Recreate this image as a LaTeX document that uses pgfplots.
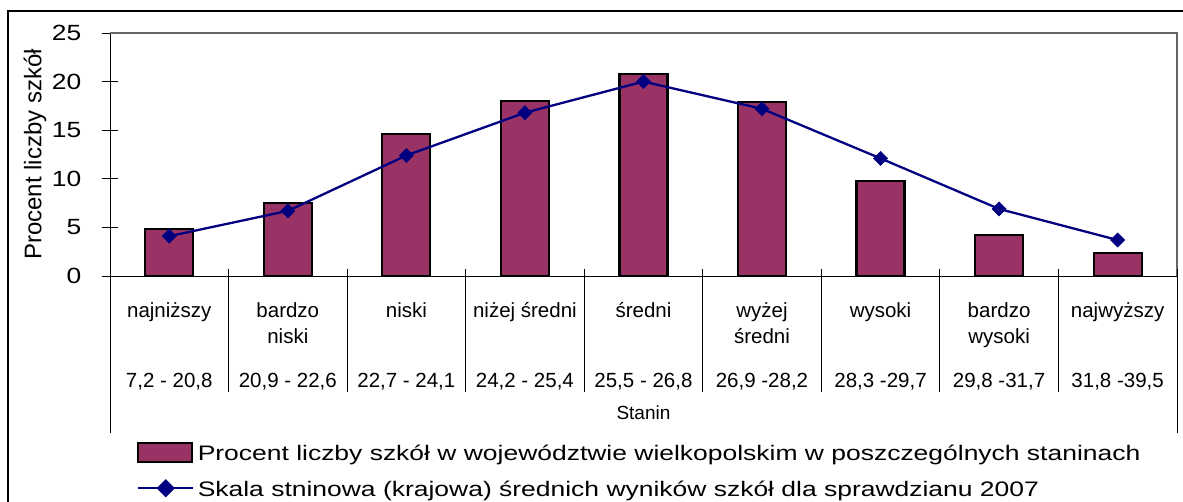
\documentclass[border=0pt]{standalone}
\usepackage{fontspec}
\setmainfont{Liberation Sans}
\newfontfamily\legendfont[FakeStretch=1.26]{Liberation Sans}
\newfontfamily\tickfont[FakeStretch=1.2]{Liberation Sans}
\usepackage{pgfplots}
\pgfplotsset{compat=1.18}
\definecolor{plum}{RGB}{153,51,102}
\definecolor{navyb}{RGB}{0,0,128}
\begin{document}
\begin{tikzpicture}
\useasboundingbox (0,0) rectangle (1183bp,502bp);
\fill[white] (0,0) rectangle (1183bp,502bp);
\draw[line width=1.2bp] (8bp,-5bp) -- (8bp,491bp) -- (1190bp,491bp);
\begin{axis}[
  at={(110bp,226bp)}, anchor=south west,
  width=1067bp, height=243bp, scale only axis,
  xmin=-0.5, xmax=8.5, ymin=0, ymax=25,
  clip=false,
  axis x line*=bottom, axis y line*=left,
  axis line style={line width=1bp, black},
  ytick={0,5,...,25},
  tick align=center, major tick length=17bp,
  tick style={black, line width=0.8bp},
  xtick={0,...,8},
  xtick style={draw=none},
  xticklabels={{\strut najniższy},{\strut bardzo\\niski},{\strut niski},{\strut niżej średni},{\strut średni},{\strut wyżej\\średni},{\strut wysoki},{\strut bardzo\\wysoki},{\strut najwyższy}},
  xticklabel style={font=\fontsize{20.5bp}{26bp}\selectfont, anchor=north, align=center, inner sep=0pt, yshift=-14.5bp},
  extra x ticks={0,...,8},
  extra x tick labels={{\strut 7,2 - 20,8},{\strut 20,9 - 22,6},{\strut 22,7 - 24,1},{\strut 24,2 - 25,4},{\strut 25,5 - 26,8},{\strut 26,9 -28,2},{\strut 28,3 -29,7},{\strut 29,8 -31,7},{\strut 31,8 -39,5}},
  extra x tick style={xtick style={draw=none}, xticklabel style={yshift=-70bp}},
  yticklabel style={font=\tickfont\fontsize{22bp}{26bp}\selectfont, anchor=east, inner sep=0pt, xshift=-20bp},
  /pgf/number format/assume math mode=true,
  xlabel={Stanin},
  every axis x label/.style={at={(rel axis cs:0.5,-0.5885)}, anchor=base, font=\fontsize{19bp}{22bp}\selectfont},
  ylabel={Procent liczby szkół},
  every axis y label/.style={at={(rel axis cs:-0.0703,0.5)}, rotate=90, anchor=center, font=\fontsize{24bp}{28bp}\selectfont},
  legend style={at={(rel axis cs:0.0249,-0.683)}, anchor=north west, draw=none, fill=none, inner sep=0pt,
    font=\legendfont\fontsize{21bp}{25bp}\selectfont, row sep=14.5bp,
    nodes={inner xsep=4bp, inner ysep=0bp, text height=15bp, text depth=5bp}},
  legend cell align=left,
]
\addplot[ybar, bar width=48bp, bar shift=0pt, fill=plum, draw=black, line width=2.2bp,
  legend image code/.code={\draw[fill=plum, draw=black, line width=2bp] (0bp,-7bp) rectangle (54bp,12bp);}]
  coordinates {(0,4.8) (1,7.5) (2,14.6) (3,18.0) (4,20.8) (5,17.9) (6,9.8) (7,4.2) (8,2.4)};
\addlegendentry{Procent liczby szkół w województwie wielkopolskim w poszczególnych staninach}
\addplot[color=navyb, line width=2.3bp, mark=square*, mark size=5bp, mark options={rotate=45, fill=navyb, draw=navyb, line width=0.5bp},
  legend image code/.code={\draw[navyb, line width=2bp] (0bp,3bp) -- (55bp,3bp); \fill[navyb] (28bp,3bp) +(0,7.5bp) -- +(7.5bp,0) -- +(0,-7.5bp) -- +(-7.5bp,0) -- cycle;}]
  coordinates {(0,4.1) (1,6.7) (2,12.4) (3,16.8) (4,20.0) (5,17.2) (6,12.1) (7,6.9) (8,3.7)};
\addlegendentry{Skala stninowa (krajowa) średnich wyników szkół dla sprawdzianu 2007}
% plot area border (top, right) in grey
\draw[gray!80!black, line width=1.2bp] (rel axis cs:0,1) -- (rel axis cs:1,1) -- (rel axis cs:1,0);
% category separators
\pgfplotsinvokeforeach{0.5,1.5,2.5,3.5,4.5,5.5,6.5,7.5}{
  \draw[black, line width=0.8bp] ([yshift=7bp]axis cs:#1,0) -- ([yshift=-116bp]axis cs:#1,0);
}
\draw[black, line width=0.8bp] (axis cs:-0.5,0) -- ([yshift=-157bp]axis cs:-0.5,0);
\draw[black, line width=0.8bp] ([yshift=7bp]axis cs:8.5,0) -- ([yshift=-157bp]axis cs:8.5,0);
\end{axis}
\end{tikzpicture}
\end{document}
